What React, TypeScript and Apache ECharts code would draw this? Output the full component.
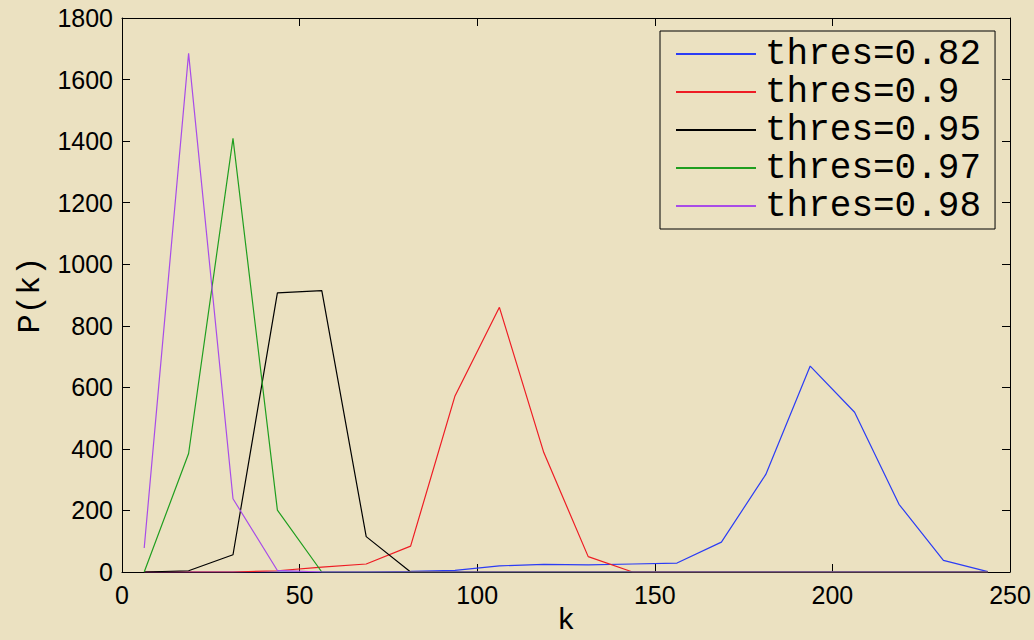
import React, { useEffect, useRef } from "react";
import * as echarts from "echarts";

// Histogram bin centres (k) shared by all curves
const kValues = [
  6.25, 18.75, 31.25, 43.75, 56.25, 68.75, 81.25, 93.75, 106.25, 118.75,
  131.25, 143.75, 156.25, 168.75, 181.25, 193.75, 206.25, 218.75, 231.25, 243.75,
];

// P(k) for each threshold
const thres082 = [0, 0, 0, 0, 0, 0, 2, 5, 20, 25, 23, 26, 29, 97, 317, 669, 519, 220, 38, 1];
const thres09 = [0, 0, 0, 4, 16, 26, 84, 572, 860, 388, 50, 0, 0, 0, 0, 0, 0, 0, 0, 0];
const thres095 = [0, 4, 56, 907, 914, 115, 0, 0, 0, 0, 0, 0, 0, 0, 0, 0, 0, 0, 0, 0];
const thres097 = [0, 385, 1409, 201, 0, 0, 0, 0, 0, 0, 0, 0, 0, 0, 0, 0, 0, 0, 0, 0];
const thres098 = [78, 1685, 238, 5, 0, 0, 0, 0, 0, 0, 0, 0, 0, 0, 0, 0, 0, 0, 0, 0];

const seriesNames = ["thres=0.82", "thres=0.9", "thres=0.95", "thres=0.97", "thres=0.98"];
const seriesValues = [thres082, thres09, thres095, thres097, thres098];
const seriesColors = ["#2b3cf5", "#ee1c24", "#000000", "#1f9e1f", "#a84ce8"];

const xTicks = { min: 0, max: 250, interval: 50 };
const yTicks = { min: 0, max: 1800, interval: 200 };

const BG = "#ebe1c1";
const MONO = "'Liberation Mono', 'DejaVu Sans Mono', monospace";
const SANS = "'Liberation Sans', Arial, sans-serif";

export default function App() {
  const ref = useRef<HTMLDivElement>(null);

  useEffect(() => {
    if (!ref.current) return;
    const chart = echarts.init(ref.current, undefined, { renderer: "svg" });

    const axisLine = { show: true, onZero: false, lineStyle: { color: "#000", width: 1 } };
    const tick = { show: true, inside: true, length: 8, lineStyle: { color: "#000", width: 1 } };
    const label = {
      color: "#000",
      fontFamily: SANS,
      fontSize: 25,
      formatter: (v: number) => String(v),
    };

    chart.setOption({
      animation: false,
      backgroundColor: BG,
      grid: {
        left: 122,
        right: 24,
        top: 18,
        bottom: 68,
        containLabel: false,
        outerBoundsMode: "none",
      },
      legend: {
        orient: "vertical",
        left: 660,
        top: 31,
        itemWidth: 80,
        itemHeight: 2,
        itemGap: 0,
        padding: [4, 14, 4, 16],
        backgroundColor: BG,
        borderColor: "#000",
        borderWidth: 1,
        borderRadius: 0,
        icon: "rect",
        data: seriesNames,
        textStyle: {
          color: "#000",
          fontFamily: MONO,
          fontSize: 36,
          lineHeight: 38,
          padding: [0, 0, 0, 4],
        },
      },
      // x-axis title, placed under the tick labels
      graphic: [
        {
          type: "text",
          left: 557,
          top: 606,
          style: { text: "k", fill: "#000", font: `30px ${MONO}` },
        },
      ],
      xAxis: [
        {
          type: "value",
          ...xTicks,
          position: "bottom",
          axisLine,
          axisTick: tick,
          axisLabel: { ...label, margin: 10 },
          splitLine: { show: false },
        },
        {
          type: "value",
          ...xTicks,
          position: "top",
          axisLine,
          axisTick: tick,
          axisLabel: { show: false },
          splitLine: { show: false },
        },
      ],
      yAxis: [
        {
          type: "value",
          ...yTicks,
          position: "left",
          name: "P(k)",
          nameLocation: "middle",
          nameGap: 76,
          nameTextStyle: { color: "#000", fontFamily: MONO, fontSize: 32 },
          axisLine,
          axisTick: tick,
          axisLabel: { ...label, margin: 9 },
          splitLine: { show: false },
        },
        {
          type: "value",
          ...yTicks,
          position: "right",
          axisLine,
          axisTick: tick,
          axisLabel: { show: false },
          splitLine: { show: false },
        },
      ],
      series: seriesNames.map((name, i) => ({
        name,
        type: "line",
        xAxisIndex: 0,
        yAxisIndex: 0,
        data: kValues.map((k, j) => [k, seriesValues[i][j]]),
        showSymbol: false,
        symbol: "none",
        color: seriesColors[i],
        lineStyle: { color: seriesColors[i], width: 1.2 },
        emphasis: { disabled: true },
      })),
    });

    return () => chart.dispose();
  }, []);

  return (
    <div
      ref={ref}
      style={{ position: "fixed", left: 0, top: 0, width: 1034, height: 640, background: BG }}
    />
  );
}
